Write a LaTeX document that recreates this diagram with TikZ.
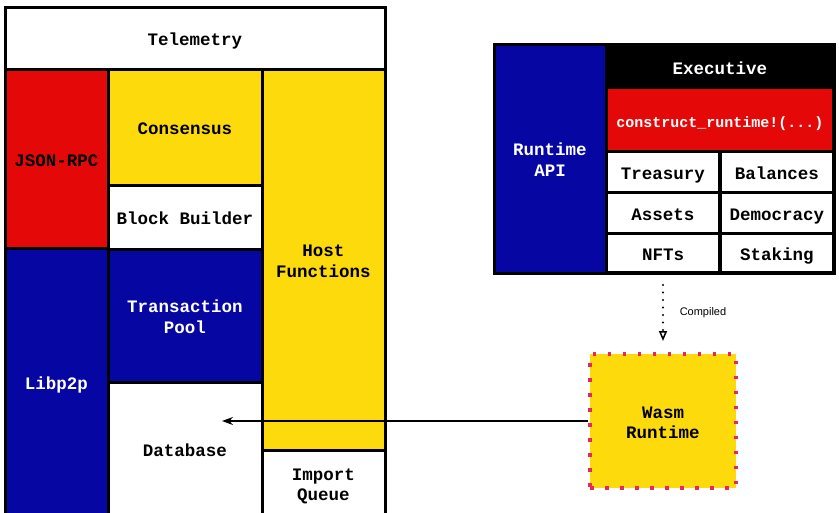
\documentclass[tikz,border=0pt]{standalone}
\usepackage{fontspec}
\setmainfont{Liberation Sans}
\setmonofont{Liberation Mono}
\usetikzlibrary{arrows.meta}
\definecolor{pred}{RGB}{228,8,8}
\definecolor{pblue}{RGB}{6,6,162}
\definecolor{pyellow}{RGB}{252,218,12}
\definecolor{pdot}{RGB}{230,40,90}
\newcommand\mybox[7]{\node[#6, minimum width={(#4)-(#2)}, minimum height={(#5)-(#3)}] (#1) at ({((#2)+(#4))/2},{((#3)+(#5))/2}) {#7};}
\newcommand\Ts{\rule{0pt}{20pt}}
\newcommand\Bs{\rule[-5pt]{0pt}{5pt}}
\tikzset{
  lbl/.style={font=\fontsize{17.5}{20.5}\selectfont\ttfamily\bfseries, align=center, inner sep=0pt},
  cellbox/.style={lbl, draw=black, line width=3pt},
  rcell/.style={lbl, fill=white},
  wasmbox/.style={lbl, fill=pyellow, draw=pdot, line width=3.5pt, dash pattern=on 3.5pt off 11.5pt},
}
\begin{document}
\begin{tikzpicture}[x=1pt,y=-1pt]
\useasboundingbox (0,0) rectangle (839,512);
\clip (0,0) rectangle (839,512);
% left stack
\mybox{tele}{5}{7}{385}{69}{cellbox, fill=white}{\Ts Telemetry\Bs}
\mybox{json}{5}{69}{108}{248}{cellbox, fill=pred}{\Ts JSON-RPC\Bs}
\mybox{libp}{5}{248}{108}{516}{cellbox, fill=pblue, text=white}{\Ts Libp2p\Bs}
\mybox{cons}{108}{69}{262}{185}{cellbox, fill=pyellow}{\Ts Consensus\Bs}
\mybox{bb}{108}{185}{262}{249}{cellbox, fill=white}{\Ts Block Builder\Bs}
\mybox{txp}{108}{249}{262}{382}{cellbox, fill=pblue, text=white}{\Ts Transaction\\Pool\Bs}
\mybox{db}{108}{382}{262}{516}{cellbox, fill=white}{\Ts Database\Bs}
\mybox{host}{262}{69}{385}{450}{cellbox, fill=pyellow}{\Ts Host\\Functions\Bs}
\mybox{imq}{262}{450}{385}{516}{cellbox, fill=white}{\Ts Import\\Queue\Bs}
% runtime panel
\mybox{rpanel}{494}{44}{834}{273}{draw=black, fill=black, line width=3pt, inner sep=0pt}{}
\mybox{rapi}{494}{44}{606}{273}{cellbox, fill=pblue, text=white}{\Ts Runtime\\API\Bs}
\mybox{exec}{606}{44}{834}{89}{lbl, text=white}{\Ts Executive\Bs}
\mybox{crt}{608}{89}{832}{150}{lbl, fill=pred, text=white, font=\fontsize{15}{18}\selectfont\ttfamily\bfseries}{\Ts construct\_runtime!(...)\Bs}
\mybox{treas}{608}{153}{718}{191}{rcell}{\Ts Treasury\Bs}
\mybox{bal}{722}{153}{832}{191}{rcell}{\Ts Balances\Bs}
\mybox{assets}{608}{194}{718}{232}{rcell}{\Ts Assets\Bs}
\mybox{demo}{722}{194}{832}{232}{rcell}{\Ts Democracy\Bs}
\mybox{nfts}{608}{235}{718}{271}{rcell}{\Ts NFTs\Bs}
\mybox{stak}{722}{235}{832}{271}{rcell}{\Ts Staking\Bs}
% wasm
\mybox{wasm}{590}{354}{736}{488}{wasmbox}{\Ts Wasm\\Runtime\Bs}
% connectors
\coordinate (ctop) at (663,285);
\coordinate (cbot) at (663,341);
\draw[line width=2.2pt, line cap=round, dash pattern=on 0pt off 7.5pt, -{Triangle[open, length=10pt, width=8pt, line width=1.5pt]}] (ctop) -- (cbot);
\node[font=\fontsize{11}{13}\selectfont, inner sep=0pt] (comp) at (703,313) {Compiled};
\coordinate (dbin) at (222,421);
\draw[line width=1.4pt, -{Stealth[length=11pt, width=8pt]}] (wasm.west) -- (dbin);
\end{tikzpicture}
\end{document}
